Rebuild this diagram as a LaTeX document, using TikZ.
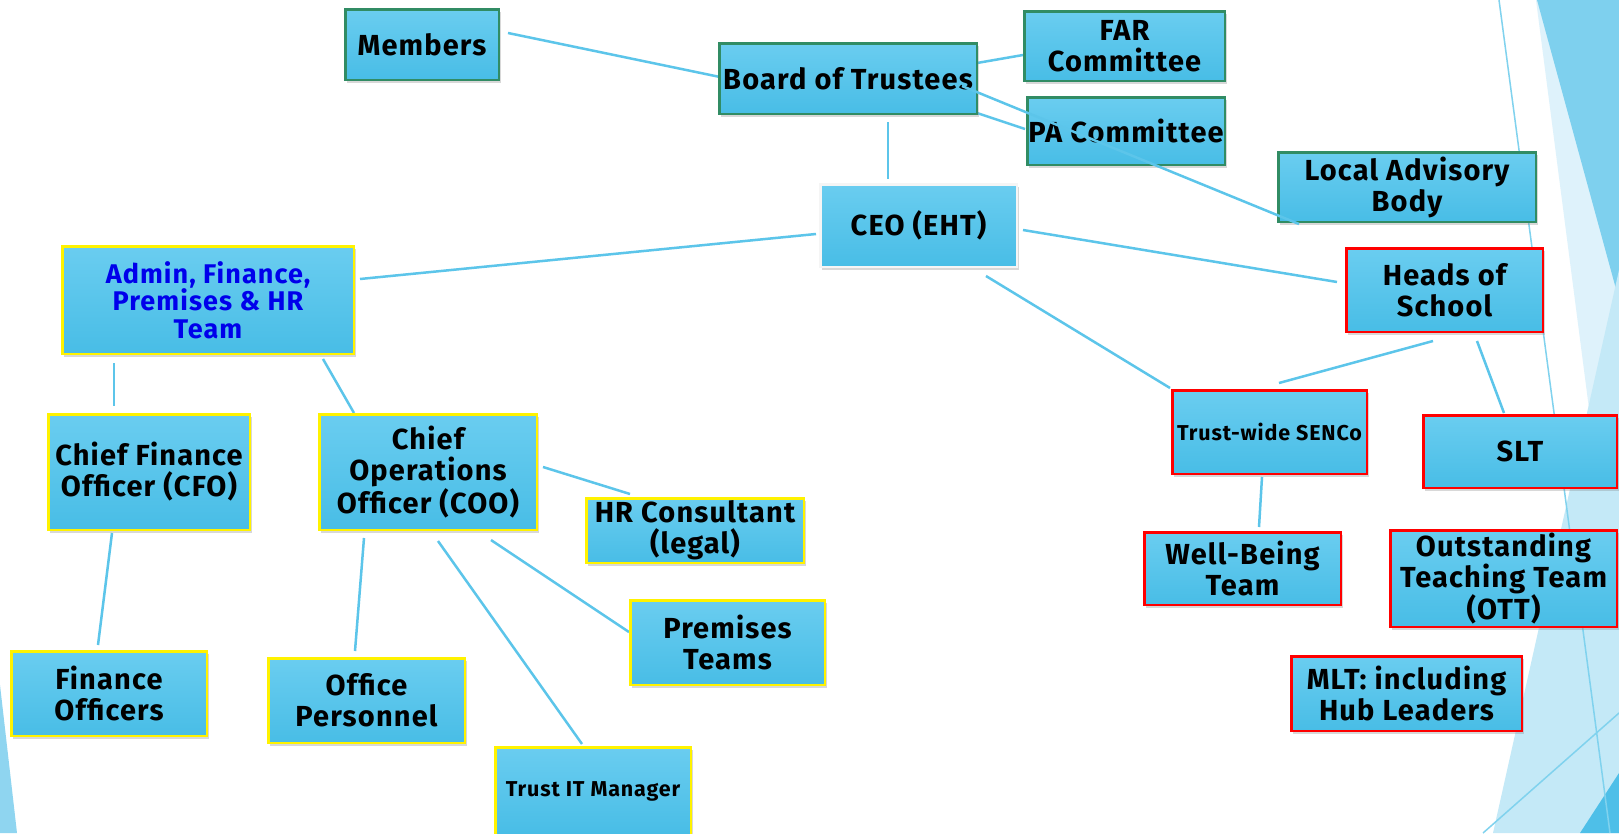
\documentclass[tikz,border=0pt]{standalone}
\usepackage{fontspec}
\setmainfont{Fira Sans}[LetterSpace=4.0]
\usetikzlibrary{calc,shadows}
\pgfdeclarelayer{bg}
\pgfdeclarelayer{lines}
\pgfsetlayers{bg,lines,main}
\definecolor{boxtop}{RGB}{106,205,240}
\definecolor{boxbot}{RGB}{72,189,230}
\definecolor{gborder}{RGB}{49,140,100}
\definecolor{conn}{RGB}{92,197,234}
\definecolor{thinl}{RGB}{128,210,238}
\definecolor{polyA}{RGB}{222,242,251}
\definecolor{polyB}{RGB}{126,208,238}
\definecolor{polyC}{RGB}{196,233,247}
\definecolor{polyD}{RGB}{78,191,232}
\definecolor{polyE}{RGB}{143,213,240}
\definecolor{admintext}{RGB}{0,0,235}
\tikzset{
  box/.style={rectangle, top color=boxtop, bottom color=boxbot, line width=2.5pt,
    inner sep=0pt, align=center, font=\bfseries\fontsize{29}{31}\selectfont,
    drop shadow={opacity=0.3, shadow xshift=2pt, shadow yshift=-3pt}},
  gbox/.style={box, draw=gborder},
  ybox/.style={box, draw=yellow},
  rbox/.style={box, draw=red},
  wbox/.style={box, draw=white!92!gray},
  sz/.style 2 args={minimum width=#1pt-2.5pt, minimum height=#2pt-2.5pt},
  conn/.style={draw=conn, line width=2.5pt},
  thin/.style={draw=thinl, line width=1.5pt},
  smalltext/.style={font=\bfseries\fontsize{21.5}{23}\selectfont},
}
\begin{document}
\begin{tikzpicture}[x=1pt,y=-1pt]
\useasboundingbox (0,0) rectangle (1619,833);
\begin{pgfonlayer}{bg}
  \fill[white] (0,0) rectangle (1619,833);
  \fill[polyA] (1536,0) -- (1619,0) -- (1619,640) -- cycle;
  \fill[polyB] (1537,0) -- (1619,0) -- (1619,300) -- cycle;
  \fill[polyC] (1619,270) -- (1493,833) -- (1619,833) -- cycle;
  \fill[polyD] (1580,833) -- (1619,773) -- (1619,833) -- cycle;
  \fill[polyE] (0,685) -- (17,833) -- (0,833) -- cycle;
  \draw[thin] (1499,0) -- (1610,833);
  \draw[thin] (1483,833) -- (1619,713);
\end{pgfonlayer}

% nodes
\node[gbox, sz={156}{73}] (members) at (422,44.5) {Members};
\node[gbox, sz={260}{73}] (board) at (848,78.5) {Board of Trustees};
\node[gbox, sz={203}{72}] (far) at (1124.5,46) {FAR\\Committee};
\node[gbox, sz={200}{70}] (pa) at (1126,131) {PA Committee};
\node[gbox, sz={260}{72}] (lab) at (1407,187) {Local Advisory\\Body};
\node[wbox, sz={199}{85}] (ceo) at (918.5,225.5) {CEO (EHT)};
\node[ybox, sz={294}{110}, text=admintext, font=\bfseries\fontsize{27}{27.5}\selectfont] (admin) at (208,300) {Admin, Finance,\\Premises \& HR\\Team};
\node[rbox, sz={199}{86}] (heads) at (1444.5,290) {Heads of\\School};
\node[ybox, sz={204}{118}] (cfo) at (149,472) {Chief Finance\\Officer (CFO)};
\node[ybox, sz={220}{118}] (coo) at (428,472) {Chief\\Operations\\Officer (COO)};
\node[ybox, sz={220}{67}] (hr) at (695,530.5) {HR Consultant\\(legal)};
\node[ybox, sz={197}{87}] (prem) at (727.5,642.5) {Premises\\Teams};
\node[ybox, sz={199}{87}] (office) at (366.5,700.5) {Office\\Personnel};
\node[ybox, sz={198}{90}, smalltext] (it) at (593,791) {Trust IT Manager};
\node[rbox, sz={197}{86}, smalltext] (senco) at (1269.5,432) {Trust-wide SENCo};
\node[rbox, sz={196}{75}] (slt) at (1520,451.5) {SLT};
\node[rbox, sz={199}{75}] (wb) at (1242.5,568.5) {Well-Being\\Team};
\node[rbox, sz={229}{99}] (ott) at (1503.5,578.5) {Outstanding\\Teaching Team\\(OTT)};
\node[rbox, sz={233}{77}] (mlt) at (1406.5,693.5) {MLT: including\\Hub Leaders};
\node[ybox, sz={198}{87}] (fo) at (109,693.5) {Finance\\Officers};

% connectors behind boxes
\begin{pgfonlayer}{lines}
  \draw[conn] ($(members.east)+(8,-11.5)$) -- ($(board.west)+(2,-1.5)$);
  \draw[conn] ($(board.east)+(-1,-15.5)$) -- ($(far.west)+(0,9)$);
  \draw[conn] ($(board.south east)+(-1,-2)$) -- ($(pa.west)+(-1,-2)$);
  \draw[conn] ($(board.south)+(40,7)$) -- ($(ceo.north)+(-30.5,-4)$);
  \draw[conn] ($(ceo.west)+(-3,8.5)$) -- ($(admin.east)+(5,-21)$);
  \draw[conn] ($(ceo.east)+(5,4.5)$) -- ($(heads.west)+(-8,-8)$);
  \draw[conn] ($(ceo.south east)+(-32,8)$) -- ($(senco.north west)+(-1,-1)$);
  \draw[conn] ($(heads.south)+(-11.5,8)$) -- ($(senco.north)+(9.5,-6)$);
  \draw[conn] ($(heads.south)+(32.5,8)$) -- ($(slt.north)+(-16,-1)$);
  \draw[conn] ($(senco.south)+(-7.5,2)$) -- ($(wb.north)+(16.5,-4)$);
  \draw[conn] ($(admin.south)+(-94,8)$) -- ($(cfo.north)+(-35,-7)$);
  \draw[conn] ($(admin.south east)+(-32,4)$) -- ($(coo.north west)+(36,0)$);
  \draw[conn] ($(cfo.south)+(-37,2)$) -- ($(fo.north)+(-11,-5)$);
  \draw[conn] ($(coo.east)+(5,-5)$) -- ($(hr.north west)+(45,-3)$);
  \draw[conn] ($(coo.south)+(63,9)$) -- ($(prem.west)+(0,-10.5)$);
  \draw[conn] ($(coo.south)+(10,10)$) -- ($(it.north)+(-11,-2)$);
  \draw[conn] ($(coo.south)+(-64,7)$) -- ($(office.north)+(-11.5,-6)$);
\end{pgfonlayer}
% connector drawn over boxes
\draw[conn] ($(board.center)+(114,7.5)$) -- ($(lab.south west)+(22,1)$);
\end{tikzpicture}
\end{document}
